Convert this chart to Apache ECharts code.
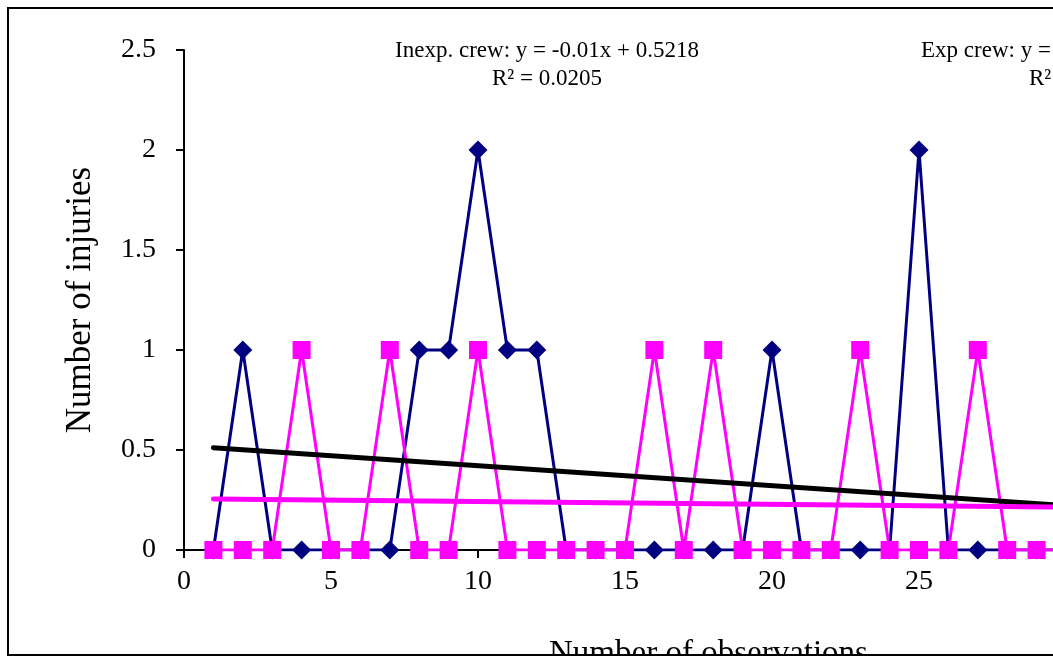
<!DOCTYPE html>
<html>
<head>
<meta charset="utf-8">
<script src="https://cdn.jsdelivr.net/npm/echarts@6/dist/echarts.min.js"></script>
<style>
  html, body { margin: 0; padding: 0; background: #fff; }
  #chart { width: 1053px; height: 657px; }
</style>
</head>
<body>
<div id="chart"></div>
<script>
// observations 1..30
const observations = [1, 2, 3, 4, 5, 6, 7, 8, 9, 10, 11, 12, 13, 14, 15,
  16, 17, 18, 19, 20, 21, 22, 23, 24, 25, 26, 27, 28, 29, 30];
const inexpCrew = [0, 1, 0, 0, 0, 0, 0, 1, 1, 2, 1, 1, 0, 0, 0,
  0, 0, 0, 0, 1, 0, 0, 0, 0, 2, 0, 0, 0, 0, 0];
const expCrew = [0, 0, 0, 1, 0, 0, 1, 0, 0, 1, 0, 0, 0, 0, 0,
  1, 0, 1, 0, 0, 0, 0, 1, 0, 0, 0, 1, 0, 0, 0];

// trendline coefficients (inexp from the label, exp)
const inexpTrend = { slope: -0.01, intercept: 0.5218 };
const expTrend = { slope: -0.0014, intercept: 0.2564 };
const trendRange = [1, 30];

const xTicks = { min: 0, max: 35, interval: 5 };
const yTicks = { min: 0, max: 2.5, interval: 0.5 };

const serif = "'Liberation Serif', 'Times New Roman', serif";

function pairs(xs, ys) {
  return xs.map((x, i) => [x, ys[i]]);
}
function trendLine(t) {
  return trendRange.map(x => [x, t.intercept + t.slope * x]);
}

const chart = echarts.init(document.getElementById("chart"));
chart.setOption({
  animation: false,
  backgroundColor: "#fff",
  // plot runs past the right edge of the picture, as in the reference
  grid: { left: 184, top: 50, height: 500, width: 1029, containLabel: false, outerBoundsMode: "none" },
  xAxis: {
    type: "value",
    min: xTicks.min, max: xTicks.max, interval: xTicks.interval,
    name: "Number of observations",
    nameLocation: "middle",
    nameGap: 88,
    nameTextStyle: { fontFamily: serif, fontSize: 33, color: "#000", padding: [0, 0, 0, 20] },
    axisLine: { lineStyle: { color: "#000", width: 2 } },
    axisTick: { inside: false, length: 8, lineStyle: { color: "#000", width: 2 } },
    axisLabel: { fontFamily: serif, fontSize: 28, color: "#000", margin: 18 },
    splitLine: { show: false }
  },
  yAxis: {
    type: "value",
    min: yTicks.min, max: yTicks.max, interval: yTicks.interval,
    name: "Number of injuries",
    nameLocation: "middle",
    nameRotate: 90,
    nameGap: 86,
    nameTextStyle: { fontFamily: serif, fontSize: 35, color: "#000" },
    axisLine: { show: true, lineStyle: { color: "#000", width: 2 } },
    axisTick: { show: true, inside: false, length: 8, lineStyle: { color: "#000", width: 2 } },
    axisLabel: { fontFamily: serif, fontSize: 28, color: "#000", margin: 28 },
    splitLine: { show: false }
  },
  series: [{
    name: "Inexp. crew",
    type: "line",
    data: pairs(observations, inexpCrew),
    symbol: "diamond",
    symbolSize: [19, 19],
    itemStyle: { color: "#000080" },
    lineStyle: { color: "#000080", width: 3 },
    z: 2
  }, {
    name: "Exp crew",
    type: "line",
    data: pairs(observations, expCrew),
    symbol: "rect",
    symbolSize: [18, 18],
    itemStyle: { color: "#FF00FF", borderRadius: 2 },
    lineStyle: { color: "#FF00FF", width: 3 },
    z: 3
  }, {
    name: "Inexp. trend",
    type: "line",
    data: trendLine(inexpTrend),
    symbol: "none",
    lineStyle: { color: "#000", width: 5, cap: "round" },
    z: 4
  }, {
    name: "Exp trend",
    type: "line",
    data: trendLine(expTrend),
    symbol: "none",
    lineStyle: { color: "#FF00FF", width: 5, cap: "round" },
    z: 4
  }],
  graphic: [{
    type: "text",
    x: 547, y: 37,
    style: {
      text: "Inexp. crew: y = -0.01x + 0.5218\nR² = 0.0205",
      font: "23px " + serif, fill: "#000", align: "center", lineHeight: 28
    }
  }, {
    type: "text",
    x: 921, y: 37,
    style: {
      text: "Exp crew: y =",
      font: "23px " + serif, fill: "#000", align: "left", lineHeight: 28
    }
  }, {
    type: "text",
    x: 1029, y: 65,
    style: {
      text: "R²",
      font: "23px " + serif, fill: "#000", align: "left", lineHeight: 28
    }
  }, {
    type: "rect",
    shape: { x: 0, y: 655, width: 1053, height: 10 },
    style: { fill: "#fff" },
    z: 90
  }, {
    type: "rect",
    shape: { x: 8, y: 8, width: 1100, height: 647 },
    style: { fill: "none", stroke: "#000", lineWidth: 2 },
    z: 100
  }]
});
</script>
</body>
</html>
